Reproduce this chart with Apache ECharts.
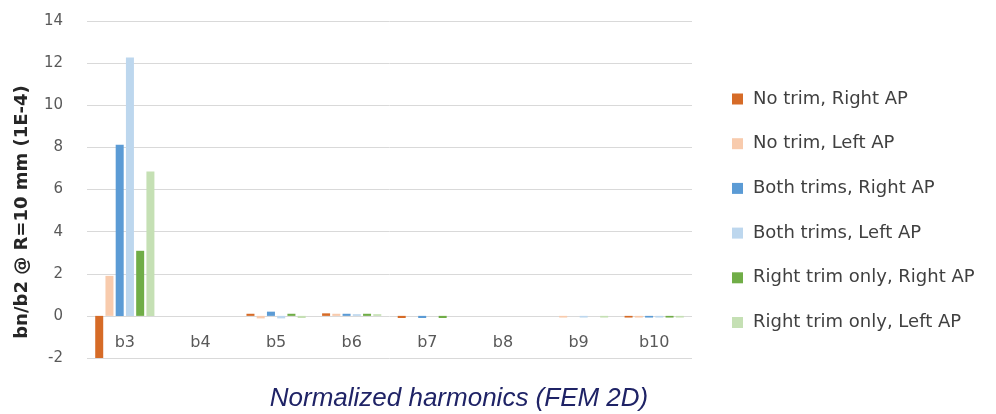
<!DOCTYPE html>
<html>
<head>
<meta charset="utf-8">
<script src="https://cdn.jsdelivr.net/npm/echarts@6/dist/echarts.min.js"></script>
<style>html,body{margin:0;padding:0;background:#fff;}#c{width:996px;height:414px;}</style>
</head>
<body>
<div id="c"></div>
<script>
var categories = ['b3','b4','b5','b6','b7','b8','b9','b10'];
var seriesNames = ['No trim, Right AP','No trim, Left AP','Both trims, Right AP','Both trims, Left AP','Right trim only, Right AP','Right trim only, Left AP'];
var noTrimRight    = [-2.0, 0, 0.10, 0.12, -0.10, 0, 0, -0.08];
var noTrimLeft     = [1.9, 0, -0.12, 0.10, 0, 0, -0.08, -0.08];
var bothTrimsRight = [8.12, 0, 0.20, 0.10, -0.10, 0, 0, -0.08];
var bothTrimsLeft  = [12.27, 0, -0.12, 0.08, 0, 0, -0.08, -0.08];
var rightOnlyRight = [3.09, 0, 0.10, 0.10, -0.10, 0, 0, -0.08];
var rightOnlyLeft  = [6.86, 0, -0.10, 0.08, 0, 0, -0.08, -0.08];
var yTicks = {min: -2, max: 14, interval: 2};
var xTitle = 'Normalized harmonics (FEM 2D)';
var yTitle = 'bn/b2 @ R=10 mm (1E-4)';

var colors = ['#D66B27','#F8CBAD','#5B9BD5','#BDD7EE','#70AD47','#C5E0B4'];
var allData = [noTrimRight,noTrimLeft,bothTrimsRight,bothTrimsLeft,rightOnlyRight,rightOnlyLeft];

var chart = echarts.init(document.getElementById('c'));
chart.setOption({
  animation: false,
  color: colors,
  grid: {left: 87, right: 304, top: 21, bottom: 56},
  legend: {
    orient: 'vertical', left: 732, top: 89, padding: 0,
    icon: 'rect', itemWidth: 11, itemHeight: 11, itemGap: 24.7,
    data: seriesNames,
    textStyle: {fontFamily: 'DejaVu Sans', fontSize: 18, color: '#404040', lineHeight: 20, padding: [0,0,0,5]}
  },
  xAxis: {
    type: 'category', data: categories,
    offset: -42,
    axisLine: {show: false, onZero: false},
    axisTick: {show: false},
    axisLabel: {fontFamily: 'DejaVu Sans', fontSize: 16, color: '#595959', margin: 19}
  },
  yAxis: {
    type: 'value', min: yTicks.min, max: yTicks.max, interval: yTicks.interval,
    axisLine: {show: false}, axisTick: {show: false},
    splitLine: {lineStyle: {color: '#d9d9d9', width: 1}},
    axisLabel: {fontFamily: 'DejaVu Sans', fontSize: 15, color: '#595959', margin: 24}
  },
  series: seriesNames.map(function(n, i){
    return {name: n, type: 'bar', data: allData[i], barWidth: 8, barGap: '28%'};
  }),
  graphic: [
    {type: 'text', x: 459, y: 399, style: {text: xTitle, fontFamily: 'Liberation Sans', fontStyle: 'italic', fontSize: 26, fill: '#1F2366', textAlign: 'center', textVerticalAlign: 'middle'}},
    {type: 'text', x: 22, y: 212, rotation: Math.PI/2, style: {text: yTitle, fontFamily: 'DejaVu Sans', fontWeight: 'bold', fontSize: 18, fill: '#262626', textAlign: 'center', textVerticalAlign: 'middle'}}
  ]
});
</script>
</body>
</html>
